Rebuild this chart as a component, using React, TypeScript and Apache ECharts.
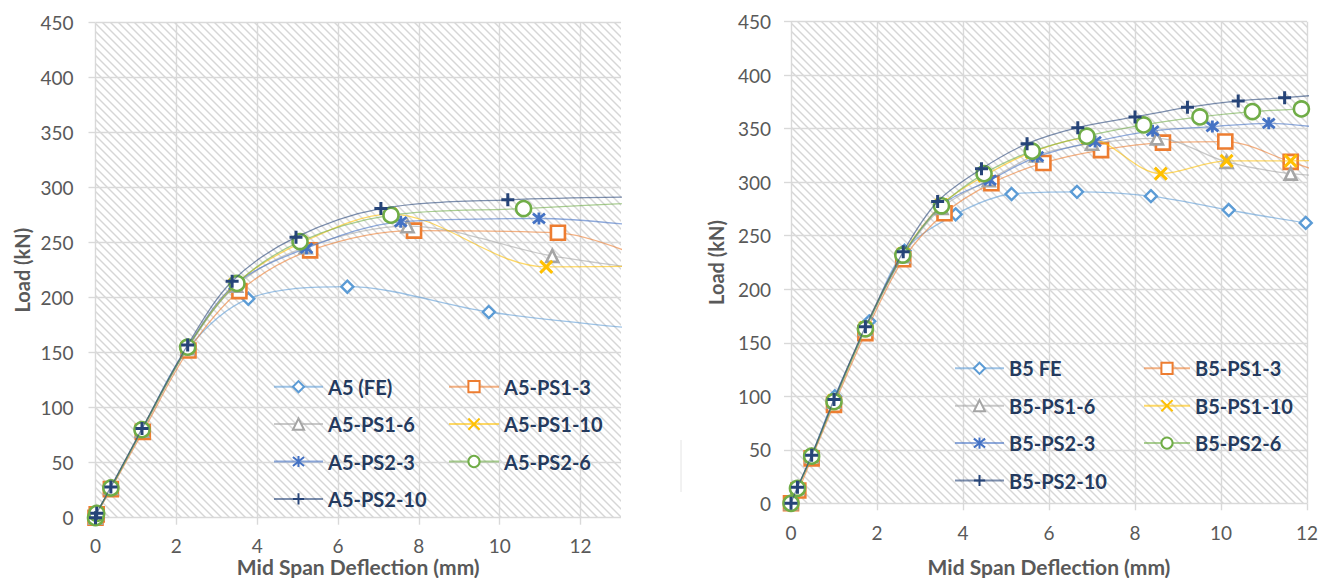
import React, { useEffect, useRef } from "react";
import * as echarts from "echarts";

// Series colours (marker colour; lines use the same hue, lighter)
const C_FE = "#5B9BD5";
const C_PS1_3 = "#ED7D31";
const C_PS1_6 = "#A5A5A5";
const C_PS1_10 = "#FFC000";
const C_PS2_3 = "#4472C4";
const C_PS2_6 = "#70AD47";
const C_PS2_10 = "#264478";

// Beam A5: [mid span deflection (mm), load (kN)]
const a5FE = [[0, 0], [0.03, 4], [0.38, 27], [1.15, 80], [2.27, 153], [3.78, 199], [6.23, 210], [9.73, 187], [14.5, 168]];
const a5PS1_3 = [[0, 0], [0.03, 3], [0.38, 26], [1.17, 78], [2.3, 152], [3.56, 206], [5.31, 243], [7.88, 261], [11.44, 259], [14.3, 224]];
const a5PS1_6 = [[0, 0], [0.03, 4], [0.38, 27], [1.15, 79], [2.28, 154], [3.48, 211], [5.2, 246], [7.72, 265], [11.3, 238], [14.5, 222]];
const a5PS1_10 = [[0, 0], [0.03, 4], [0.38, 27], [1.15, 80], [2.28, 155], [3.45, 212], [5.1, 250], [7.3, 276], [11.15, 228], [14.3, 229]];
const a5PS2_3 = [[0, 0], [0.03, 4], [0.38, 27], [1.15, 80], [2.28, 155], [3.45, 212], [5.22, 245], [7.55, 269], [10.97, 272], [14.3, 262]];
const a5PS2_6 = [[0, 0], [0.03, 4], [0.38, 27], [1.15, 80], [2.28, 155], [3.5, 213], [5.06, 251], [7.31, 275], [10.59, 281], [14.3, 288]];
const a5PS2_10 = [[0, 0], [0.03, 4], [0.38, 28], [1.15, 81], [2.28, 157], [3.38, 215], [4.96, 255], [7.06, 281], [10.2, 289], [14.5, 292]];

// Beam B5: [mid span deflection (mm), load (kN)]
const b5FE = [[0, 0], [0.15, 14], [0.48, 45], [1.02, 100], [1.82, 170], [2.64, 236], [3.83, 270], [5.13, 289], [6.65, 291], [8.37, 287], [10.18, 274], [11.97, 262], [13.5, 254]];
const b5PS1_3 = [[0, 0], [0.17, 12], [0.48, 42], [1.0, 92], [1.73, 159], [2.61, 228], [3.57, 271], [4.66, 299], [5.87, 318], [7.21, 330], [8.65, 337], [10.1, 338], [11.62, 319], [13.0, 300]];
const b5PS1_6 = [[0, 0], [0.15, 14], [0.48, 44], [1.0, 95], [1.73, 163], [2.61, 231], [3.5, 276], [4.6, 302], [5.7, 325], [7.0, 336], [8.51, 341], [10.13, 319], [11.62, 308], [13.2, 305]];
const b5PS1_10 = [[0, 0], [0.15, 14], [0.48, 44], [1.0, 96], [1.73, 164], [2.61, 233], [3.5, 279], [4.5, 306], [5.6, 328], [6.9, 341], [8.6, 308], [10.13, 320], [11.62, 320], [13.2, 321]];
const b5PS2_3 = [[0, 0], [0.15, 14], [0.48, 44], [1.0, 96], [1.73, 164], [2.61, 232], [3.52, 279], [4.63, 302], [5.73, 324], [7.07, 338], [8.41, 348], [9.8, 352], [11.11, 355], [13.2, 346]];
const b5PS2_6 = [[0, 0], [0.15, 14], [0.48, 44], [1.0, 95], [1.73, 163], [2.6, 232], [3.5, 278], [4.49, 308], [5.61, 329], [6.88, 343], [8.2, 353.5], [9.51, 361], [10.73, 366], [11.87, 368.5], [13.2, 371]];
const b5PS2_10 = [[0, 0], [0.15, 15], [0.48, 45], [1.0, 97], [1.73, 165], [2.61, 235], [3.41, 282], [4.43, 312.5], [5.49, 336], [6.67, 351], [8.0, 361], [9.22, 370], [10.4, 376], [11.48, 379], [13.0, 384]];

const A5_NAMES = ["A5 (FE)", "A5-PS1-3", "A5-PS1-6", "A5-PS1-10", "A5-PS2-3", "A5-PS2-6", "A5-PS2-10"];
const B5_NAMES = ["B5 FE", "B5-PS1-3", "B5-PS1-6", "B5-PS1-10", "B5-PS2-3", "B5-PS2-6", "B5-PS2-10"];

const X_TITLE = "Mid Span Deflection (mm)";
const Y_TITLE = "Load (kN)";

// Stroke-only marker outlines
const SYM_CROSS = "path://M0 0L10 10M10 0L0 10";
const SYM_PLUS = "path://M5 0L5 10M0 5L10 5";
const SYM_STAR = "path://M1 1L9 9M9 1L1 9M5 0L5 10";

const FONT = "Lato, 'Noto Sans', sans-serif";
const GRID_GREY = "#d9d9d9";
const TEXT_GREY = "#595959";
const LEGEND_TEXT = "#243a5e";

// Diagonal hatch tile for the plot background
function makeHatch(): HTMLCanvasElement {
  const s = 8;
  const c = document.createElement("canvas");
  c.width = s;
  c.height = s;
  const ctx = c.getContext("2d")!;
  ctx.fillStyle = "#ffffff";
  ctx.fillRect(0, 0, s, s);
  ctx.strokeStyle = "#d6d6d6";
  ctx.lineWidth = 1.4;
  for (const k of [-s, 0, s]) {
    ctx.beginPath();
    ctx.moveTo(k - 1, -1);
    ctx.lineTo(k + s + 1, s + 1);
    ctx.stroke();
  }
  return c;
}

type Style = { symbol: string; size: number; color: string; border: number };
const STYLES: Style[] = [
  { symbol: "diamond", size: 12, color: C_FE, border: 2.4 },
  { symbol: "rect", size: 14, color: C_PS1_3, border: 2.6 },
  { symbol: "triangle", size: 12, color: C_PS1_6, border: 2.6 },
  { symbol: SYM_CROSS, size: 12, color: C_PS1_10, border: 3 },
  { symbol: SYM_STAR, size: 12, color: C_PS2_3, border: 2.8 },
  { symbol: "circle", size: 15, color: C_PS2_6, border: 2.6 },
  { symbol: SYM_PLUS, size: 13, color: C_PS2_10, border: 3 },
];

function makeSeries(names: string[], datasets: number[][][], idx: number) {
  return datasets.map((data, i) => {
    const st = STYLES[i];
    return {
      type: "line",
      name: names[i],
      data,
      xAxisIndex: idx,
      yAxisIndex: idx,
      smooth: 0.33,
      clip: true,
      symbol: st.symbol,
      symbolSize: st.size,
      lineStyle: { color: st.color, width: 1.3, opacity: 0.6 },
      itemStyle: { color: "#ffffff", borderColor: st.color, borderWidth: st.border },
      emphasis: { disabled: true },
      z: 2 + i * 0.01,
    };
  });
}

function xAxis(gridIndex: number, max: number, labelMargin: number, nameGap: number) {
  return {
    type: "value",
    gridIndex,
    min: 0,
    max,
    interval: 2,
    axisLine: { show: false },
    axisTick: { show: true, length: 7, lineStyle: { color: GRID_GREY, width: 1.4 } },
    splitLine: { show: true, showMaxLine: max === 12, lineStyle: { color: GRID_GREY, width: 1.4 } },
    axisLabel: { fontFamily: FONT, fontSize: 19, lineHeight: 19, color: TEXT_GREY, margin: labelMargin, showMaxLabel: max === 12 },
    name: X_TITLE,
    nameLocation: "middle",
    nameGap,
    nameMoveOverlap: false,
    nameTextStyle: { fontFamily: FONT, fontWeight: "bold", fontSize: 21, lineHeight: 20, color: TEXT_GREY },
  };
}

function yAxis(gridIndex: number, margin: number, nameGap: number) {
  return {
    type: "value",
    gridIndex,
    min: 0,
    max: 450,
    interval: 50,
    axisLine: { show: false },
    axisTick: { show: true, length: 7, lineStyle: { color: GRID_GREY, width: 1.4 } },
    splitLine: { show: true, lineStyle: { color: GRID_GREY, width: 1.4 } },
    axisLabel: { fontFamily: FONT, fontSize: 19, color: TEXT_GREY, margin },
    name: Y_TITLE,
    nameLocation: "middle",
    nameGap,
    nameMoveOverlap: false,
    nameTextStyle: { fontFamily: FONT, fontWeight: "bold", fontSize: 20, color: TEXT_GREY },
  };
}

function legend(names: string[], left: number, top: number, itemWidth: number) {
  return {
    orient: "vertical",
    left,
    top,
    padding: 0,
    itemWidth,
    itemHeight: 14,
    itemGap: 15.4,
    selectedMode: false,
    data: names,
    textStyle: { fontFamily: FONT, fontWeight: "bold", fontSize: 20, lineHeight: 22, color: LEGEND_TEXT },
  };
}

export default function App() {
  const ref = useRef<HTMLDivElement>(null);

  useEffect(() => {
    const chart = echarts.init(ref.current!, null, { renderer: "svg" });
    const hatch = makeHatch();
    const bg = { image: hatch, repeat: "repeat" };

    chart.setOption({
      animation: false,
      backgroundColor: "#ffffff",
      grid: [
        { left: 95.5, top: 22.7, width: 525.5, height: 495, show: true, backgroundColor: bg, borderWidth: 0, outerBoundsMode: "none", containLabel: false },
        { left: 791, top: 21.7, width: 516, height: 481.6, show: true, backgroundColor: bg, borderWidth: 0, outerBoundsMode: "none", containLabel: false },
      ],
      xAxis: [xAxis(0, 13, 18, 39), xAxis(1, 12, 20, 53)],
      yAxis: [yAxis(0, 22, 64), yAxis(1, 20, 65.5)],
      legend: [
        legend([A5_NAMES[0], A5_NAMES[2], A5_NAMES[4], A5_NAMES[6]], 273, 375.7, 49),
        legend([A5_NAMES[1], A5_NAMES[3], A5_NAMES[5]], 448, 375.7, 50),
        legend([B5_NAMES[0], B5_NAMES[2], B5_NAMES[4], B5_NAMES[6]], 954, 357.3, 49),
        legend([B5_NAMES[1], B5_NAMES[3], B5_NAMES[5]], 1143, 357.3, 46),
      ],
      graphic: [
        { type: "line", shape: { x1: 681, y1: 440, x2: 681, y2: 492 }, style: { stroke: "#e4e4e4", lineWidth: 1 }, silent: true },
      ],
      series: [
        ...makeSeries(A5_NAMES, [a5FE, a5PS1_3, a5PS1_6, a5PS1_10, a5PS2_3, a5PS2_6, a5PS2_10], 0),
        ...makeSeries(B5_NAMES, [b5FE, b5PS1_3, b5PS1_6, b5PS1_10, b5PS2_3, b5PS2_6, b5PS2_10], 1),
      ],
    });

    return () => chart.dispose();
  }, []);

  return (
    <div
      ref={ref}
      style={{ position: "absolute", left: 0, top: 0, width: 1325, height: 578, background: "#ffffff" }}
    />
  );
}
